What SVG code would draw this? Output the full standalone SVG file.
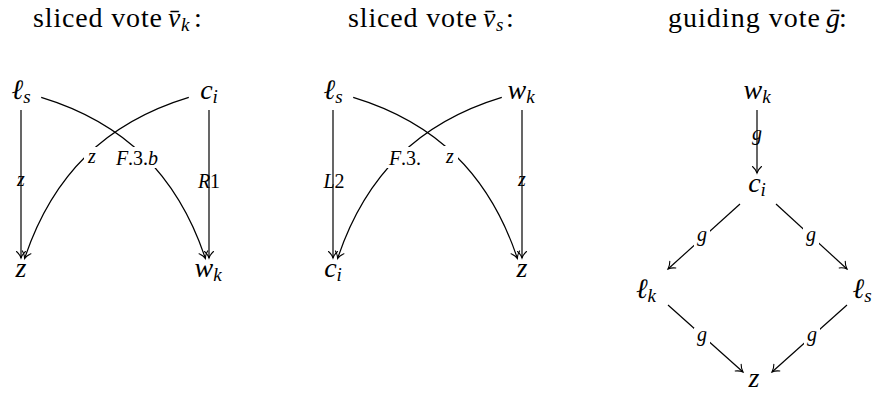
<svg xmlns="http://www.w3.org/2000/svg" width="878" height="397" viewBox="0 0 878 397">
<style>
text{font-family:"Liberation Serif","Times New Roman",serif;fill:#000}
.title{font-size:28px}
.mi{font-style:italic}
.node{font-size:28px;font-style:italic;text-anchor:middle}
.sub{font-size:19px}
.lbl{font-size:20px;font-style:italic;text-anchor:middle}
.up{font-style:normal}
.edge{fill:none;stroke:#000;stroke-width:1.2;marker-end:url(#tip)}
.bg{fill:#fff;stroke:none}
</style>
<defs>
<marker id="tip" markerUnits="userSpaceOnUse" viewBox="-9 -6 11 12" refX="0" refY="0" markerWidth="11" markerHeight="12" orient="auto">
<path d="M-6.5,-4.5 C-4.5,-2.2 -1.8,-0.6 0,0 C-1.8,0.6 -4.5,2.2 -6.5,4.5" fill="none" stroke="#000" stroke-width="1.1" stroke-linecap="round"/>
</marker>
</defs>
<g id="titles">
<text class="title" y="27"><tspan x="33" textLength="129" lengthAdjust="spacing">sliced vote</tspan><tspan x="168" class="mi">v̄</tspan><tspan x="181" y="31" class="sub mi">k</tspan><tspan x="194" y="27">:</tspan></text>
<text class="title" y="27"><tspan x="348" textLength="129" lengthAdjust="spacing">sliced vote</tspan><tspan x="483" class="mi">v̄</tspan><tspan x="496" y="31" class="sub mi">s</tspan><tspan x="506" y="27">:</tspan></text>
<text class="title" y="27"><tspan x="668" textLength="152" lengthAdjust="spacing">guiding vote</tspan><tspan x="826" class="mi">ḡ</tspan><tspan x="839">:</tspan></text>
</g>
<g id="connectors">
<!-- panel 1 -->
<path class="edge" d="M21,110 L21,258"/>
<path class="edge" d="M209,110 L209,258"/>
<path class="edge" d="M41.2,97.4 C124.2,122.6 177.4,174.8 205.4,258.5"/>
<path class="edge" d="M188.8,97.4 C105.8,122.6 52.6,174.8 24.6,258.5"/>
<text class="lbl" x="21" y="186">z</text>
<text class="lbl" x="209" y="188">R<tspan class="up">1</tspan></text>
<rect class="bg" x="84" y="147" width="16" height="19"/>
<text class="lbl" x="92" y="163">z</text>
<rect class="bg" x="111" y="147" width="52" height="21"/>
<text class="lbl" x="137" y="165">F<tspan class="up">.3.</tspan>b</text>
<!-- panel 2 -->
<path class="edge" d="M333,110 L333,258"/>
<path class="edge" d="M522,110 L522,258"/>
<path class="edge" d="M353.2,97.4 C436.2,122.6 489.4,174.8 517.4,258.5"/>
<path class="edge" d="M501.8,97.4 C418.8,122.6 365.6,174.8 337.6,258.5"/>
<text class="lbl" x="334" y="188">L<tspan class="up">2</tspan></text>
<text class="lbl" x="522" y="186">z</text>
<rect class="bg" x="385" y="147" width="40" height="21"/>
<text class="lbl" x="405" y="165">F<tspan class="up">.3.</tspan></text>
<rect class="bg" x="442" y="146" width="16" height="20"/>
<text class="lbl" x="450" y="163">z</text>
<!-- panel 3 -->
<path class="edge" d="M757,110 L757,173"/>
<path class="edge" d="M740,204 L668,269"/>
<path class="edge" d="M776,204 L847,269"/>
<path class="edge" d="M668,305 L743,372"/>
<path class="edge" d="M847,305 L772,372"/>
<text class="lbl" x="757" y="140">g</text>
<rect class="bg" x="694" y="228" width="16" height="19"/>
<text class="lbl" x="702" y="241">g</text>
<rect class="bg" x="803" y="228" width="16" height="19"/>
<text class="lbl" x="811" y="241">g</text>
<rect class="bg" x="694" y="328" width="16" height="19"/>
<text class="lbl" x="702" y="341">g</text>
<rect class="bg" x="804" y="328" width="16" height="19"/>
<text class="lbl" x="812" y="341">g</text>
</g>
<g id="p1-ls"><text class="node" x="21" y="99">ℓ<tspan class="sub" dy="4">s</tspan></text></g>
<g id="p1-ci"><text class="node" x="209" y="99">c<tspan class="sub" dy="4">i</tspan></text></g>
<g id="p1-z"><text class="node" x="21" y="277">z</text></g>
<g id="p1-wk"><text class="node" x="208" y="277">w<tspan class="sub" dy="4">k</tspan></text></g>
<g id="p2-ls"><text class="node" x="333" y="99">ℓ<tspan class="sub" dy="4">s</tspan></text></g>
<g id="p2-wk"><text class="node" x="521" y="99">w<tspan class="sub" dy="4">k</tspan></text></g>
<g id="p2-ci"><text class="node" x="333" y="277">c<tspan class="sub" dy="4">i</tspan></text></g>
<g id="p2-z"><text class="node" x="522" y="277">z</text></g>
<g id="p3-wk"><text class="node" x="757" y="99">w<tspan class="sub" dy="4">k</tspan></text></g>
<g id="p3-ci"><text class="node" x="757" y="192">c<tspan class="sub" dy="4">i</tspan></text></g>
<g id="p3-lk"><text class="node" x="646" y="298">ℓ<tspan class="sub" dy="4">k</tspan></text></g>
<g id="p3-ls"><text class="node" x="862" y="298">ℓ<tspan class="sub" dy="4">s</tspan></text></g>
<g id="p3-z"><text class="node" x="754" y="387">z</text></g>
</svg>
